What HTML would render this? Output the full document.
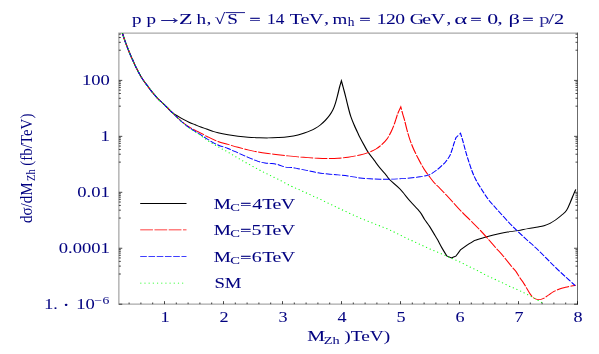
<!DOCTYPE html>
<html><head><meta charset="utf-8"><title>p p → Z h</title>
<style>html,body{margin:0;padding:0;background:#fff;overflow:hidden}svg{display:block}text{font-family:"Liberation Serif",serif;fill:#000080;stroke:#000080;stroke-width:0.05px}.mono{font-family:"Liberation Mono",monospace;stroke:none}</style></head><body>
<svg width="599" height="354" viewBox="0 0 599 354">
<rect width="599" height="354" fill="#fff"/>
<g transform="scale(1.25,1)" fill="none" stroke-linejoin="miter" stroke-miterlimit="10">
<path d="M97.92,33.00 C98.28,34.40 99.17,38.23 100.08,41.40 C100.99,44.57 102.55,49.43 103.36,52.00 C104.17,54.57 104.49,55.47 104.96,56.80 C105.43,58.13 105.48,58.15 106.16,60.00 C106.84,61.85 107.81,64.88 109.04,67.90 C110.27,70.92 112.01,75.08 113.52,78.10 C115.03,81.12 116.57,83.47 118.08,86.00 C119.59,88.53 121.05,91.00 122.56,93.30 C124.07,95.60 126.04,98.38 127.12,99.80 C128.20,101.22 127.96,100.53 129.04,101.80 C130.12,103.07 132.09,105.55 133.60,107.40 C135.11,109.25 136.59,111.40 138.08,112.90 C139.57,114.40 141.05,115.27 142.56,116.40 C144.07,117.53 145.61,118.68 147.12,119.70 C148.63,120.72 150.09,121.65 151.60,122.50 C153.11,123.35 154.65,124.05 156.16,124.80 C157.67,125.55 159.13,126.30 160.64,127.00 C162.15,127.70 163.71,128.33 165.20,129.00 C166.69,129.67 168.07,130.37 169.60,131.00 C171.13,131.63 172.27,132.17 174.40,132.80 C176.53,133.43 179.73,134.22 182.40,134.80 C185.07,135.38 187.73,135.88 190.40,136.30 C193.07,136.72 195.73,137.07 198.40,137.30 C201.07,137.53 203.73,137.60 206.40,137.70 C209.07,137.80 211.73,137.93 214.40,137.90 C217.07,137.87 219.73,137.70 222.40,137.50 C225.07,137.30 227.73,137.12 230.40,136.70 C233.07,136.28 236.13,135.65 238.40,135.00 C240.67,134.35 242.40,133.48 244.00,132.80 C245.60,132.12 246.64,131.63 248.00,130.90 C249.36,130.17 250.79,129.38 252.16,128.40 C253.53,127.42 254.89,126.33 256.24,125.00 C257.59,123.67 259.00,122.02 260.24,120.40 C261.48,118.78 262.65,117.08 263.68,115.30 C264.71,113.52 265.61,111.75 266.40,109.70 C267.19,107.65 267.73,105.68 268.40,103.00 C269.07,100.32 269.84,96.33 270.40,93.60 C270.96,90.87 271.31,88.73 271.76,86.60 C272.21,84.47 272.89,81.77 273.12,80.80 C273.35,81.83 273.91,84.30 274.48,87.00 C275.05,89.70 275.88,93.63 276.56,97.00 C277.24,100.37 277.88,103.95 278.56,107.20 C279.24,110.45 279.84,113.53 280.64,116.50 C281.44,119.47 282.35,122.03 283.36,125.00 C284.37,127.97 285.95,132.20 286.72,134.30 C287.49,136.40 287.25,135.82 288.00,137.60 C288.75,139.38 290.13,142.60 291.20,145.00 C292.27,147.40 293.07,149.50 294.40,152.00 C295.73,154.50 297.60,157.33 299.20,160.00 C300.80,162.67 302.40,165.50 304.00,168.00 C305.60,170.50 307.47,173.00 308.80,175.00 C310.13,177.00 310.13,177.67 312.00,180.00 C313.87,182.33 317.33,185.50 320.00,189.00 C322.67,192.50 325.33,197.17 328.00,201.00 C330.67,204.83 334.04,208.90 336.00,212.00 C337.96,215.10 338.52,217.27 339.76,219.60 C341.00,221.93 342.20,223.63 343.44,226.00 C344.68,228.37 346.12,231.57 347.20,233.80 C348.28,236.03 348.85,237.03 349.92,239.40 C350.99,241.77 352.36,245.27 353.60,248.00 C354.84,250.73 356.73,254.50 357.36,255.80 C357.99,256.15 360.49,257.55 361.12,257.90 C361.71,257.62 364.05,256.48 364.64,256.20 C365.29,255.10 367.91,250.70 368.56,249.60 C369.36,248.90 371.49,246.93 373.36,245.40 C375.23,243.87 378.69,241.23 379.76,240.40 C381.37,239.80 386.07,237.95 389.44,236.80 C392.81,235.65 397.17,234.30 400.00,233.50 C402.83,232.70 404.00,232.48 406.40,232.00 C408.80,231.52 411.73,231.17 414.40,230.60 C417.07,230.03 419.73,229.20 422.40,228.60 C425.07,228.00 428.27,227.48 430.40,227.00 C432.53,226.52 433.60,226.32 435.20,225.70 C436.80,225.08 438.47,224.25 440.00,223.30 C441.53,222.35 442.87,221.33 444.40,220.00 C445.93,218.67 447.73,216.90 449.20,215.30 C450.67,213.70 452.00,212.65 453.20,210.40 C454.40,208.15 455.48,204.40 456.40,201.80 C457.32,199.20 458.01,196.88 458.72,194.80 C459.43,192.72 460.32,190.22 460.64,189.30" stroke="#000" stroke-width="0.95"/>
<path d="M97.92,33.00 C98.28,34.40 99.17,38.23 100.08,41.40 C100.99,44.57 102.55,49.43 103.36,52.00 C104.17,54.57 104.49,55.47 104.96,56.80 C105.43,58.13 105.48,58.15 106.16,60.00 C106.84,61.85 107.81,64.88 109.04,67.90 C110.27,70.92 112.01,75.08 113.52,78.10 C115.03,81.12 116.57,83.47 118.08,86.00 C119.59,88.53 121.05,91.00 122.56,93.30 C124.07,95.60 126.04,98.38 127.12,99.80 C128.20,101.22 127.96,100.53 129.04,101.80 C130.12,103.07 132.09,105.55 133.60,107.40 C135.11,109.25 136.59,111.10 138.08,112.90 C139.57,114.70 141.05,116.48 142.56,118.20 C144.07,119.92 145.61,121.70 147.12,123.20 C148.63,124.70 149.72,125.78 151.60,127.20 C153.48,128.62 155.93,130.07 158.40,131.70 C160.87,133.33 163.73,135.37 166.40,137.00 C169.07,138.63 171.73,140.27 174.40,141.50 C177.07,142.73 179.73,143.43 182.40,144.40 C185.07,145.37 187.73,146.38 190.40,147.30 C193.07,148.22 195.73,149.12 198.40,149.90 C201.07,150.68 203.73,151.40 206.40,152.00 C209.07,152.60 211.73,153.05 214.40,153.50 C217.07,153.95 219.73,154.30 222.40,154.70 C225.07,155.10 227.73,155.53 230.40,155.90 C233.07,156.27 235.73,156.62 238.40,156.90 C241.07,157.18 243.73,157.37 246.40,157.60 C249.07,157.83 251.73,158.15 254.40,158.30 C257.07,158.45 259.73,158.50 262.40,158.50 C265.07,158.50 267.73,158.50 270.40,158.30 C273.07,158.10 275.47,157.85 278.40,157.30 C281.33,156.75 285.33,155.77 288.00,155.00 C290.67,154.23 292.27,153.70 294.40,152.70 C296.53,151.70 298.93,150.38 300.80,149.00 C302.67,147.62 304.13,146.07 305.60,144.40 C307.07,142.73 308.40,141.07 309.60,139.00 C310.80,136.93 311.87,134.33 312.80,132.00 C313.73,129.67 314.53,127.17 315.20,125.00 C315.87,122.83 316.27,121.00 316.80,119.00 C317.33,117.00 317.76,115.03 318.40,113.00 C319.04,110.97 320.27,107.83 320.64,106.80 C320.93,108.17 321.91,112.80 322.40,115.00 C322.89,117.20 323.07,117.50 323.60,120.00 C324.13,122.50 324.87,126.67 325.60,130.00 C326.33,133.33 327.07,136.67 328.00,140.00 C328.93,143.33 330.00,146.67 331.20,150.00 C332.40,153.33 333.87,156.83 335.20,160.00 C336.53,163.17 337.87,166.33 339.20,169.00 C340.53,171.67 341.87,173.75 343.20,176.00 C344.53,178.25 345.73,180.42 347.20,182.50 C348.67,184.58 349.87,185.75 352.00,188.50 C354.13,191.25 357.33,195.42 360.00,199.00 C362.67,202.58 365.33,206.50 368.00,210.00 C370.67,213.50 373.33,216.67 376.00,220.00 C378.67,223.33 381.47,226.67 384.00,230.00 C386.53,233.33 389.07,237.00 391.20,240.00 C393.33,243.00 394.80,245.17 396.80,248.00 C398.80,250.83 401.07,253.83 403.20,257.00 C405.33,260.17 408.00,264.58 409.60,267.00 C411.20,269.42 411.73,269.67 412.80,271.50 C413.87,273.33 414.93,275.97 416.00,278.00 C417.07,280.03 417.87,281.08 419.20,283.70 C420.53,286.32 422.71,291.32 424.00,293.70 C425.29,296.08 425.81,297.02 426.96,298.00 C428.11,298.98 429.56,299.55 430.88,299.60 C432.20,299.65 433.55,299.07 434.88,298.30 C436.21,297.53 437.55,296.10 438.88,295.00 C440.21,293.90 441.43,292.70 442.88,291.70 C444.33,290.70 446.01,289.73 447.60,289.00 C449.19,288.27 450.80,287.80 452.40,287.30 C454.00,286.80 455.83,286.33 457.20,286.00 C458.57,285.67 460.07,285.42 460.64,285.30" stroke="#f00" stroke-width="0.9" stroke-dasharray="10.2 1.2"/>
<path d="M97.92,33.00 C98.28,34.40 99.17,38.23 100.08,41.40 C100.99,44.57 102.55,49.43 103.36,52.00 C104.17,54.57 104.49,55.47 104.96,56.80 C105.43,58.13 105.48,58.15 106.16,60.00 C106.84,61.85 107.81,64.88 109.04,67.90 C110.27,70.92 112.01,75.08 113.52,78.10 C115.03,81.12 116.57,83.47 118.08,86.00 C119.59,88.53 121.05,91.00 122.56,93.30 C124.07,95.60 126.04,98.38 127.12,99.80 C128.20,101.22 127.96,100.53 129.04,101.80 C130.12,103.07 132.09,105.55 133.60,107.40 C135.11,109.25 136.59,111.05 138.08,112.90 C139.57,114.75 141.05,116.72 142.56,118.50 C144.07,120.28 145.61,122.05 147.12,123.60 C148.63,125.15 149.72,126.23 151.60,127.80 C153.48,129.37 155.93,131.05 158.40,133.00 C160.87,134.95 163.73,137.50 166.40,139.50 C169.07,141.50 171.73,143.50 174.40,145.00 C177.07,146.50 179.73,147.18 182.40,148.50 C185.07,149.82 187.73,151.43 190.40,152.90 C193.07,154.37 195.73,155.90 198.40,157.30 C201.07,158.70 204.13,160.35 206.40,161.30 C208.67,162.25 210.17,162.63 212.00,163.00 C213.83,163.37 215.57,163.22 217.36,163.50 C219.15,163.78 220.95,164.12 222.72,164.70 C224.49,165.28 226.21,166.53 228.00,167.00 C229.79,167.47 231.71,167.22 233.44,167.50 C235.17,167.78 236.24,168.18 238.40,168.70 C240.56,169.22 243.73,169.92 246.40,170.60 C249.07,171.28 251.73,172.23 254.40,172.80 C257.07,173.37 259.73,173.65 262.40,174.00 C265.07,174.35 267.73,174.57 270.40,174.90 C273.07,175.23 275.47,175.48 278.40,176.00 C281.33,176.52 285.07,177.53 288.00,178.00 C290.93,178.47 293.33,178.60 296.00,178.80 C298.67,179.00 301.33,179.13 304.00,179.20 C306.67,179.27 309.33,179.28 312.00,179.20 C314.67,179.12 317.33,178.90 320.00,178.70 C322.67,178.50 325.33,178.32 328.00,178.00 C330.67,177.68 333.68,177.25 336.00,176.80 C338.32,176.35 340.32,175.87 341.92,175.30 C343.52,174.73 344.45,174.18 345.60,173.40 C346.75,172.62 347.60,171.77 348.80,170.60 C350.00,169.43 351.48,167.93 352.80,166.40 C354.12,164.87 355.56,163.17 356.72,161.40 C357.88,159.63 358.93,157.77 359.76,155.80 C360.59,153.83 361.11,151.67 361.68,149.60 C362.25,147.53 362.69,145.37 363.20,143.40 C363.71,141.43 364.47,138.73 364.72,137.80 C365.33,137.03 367.79,133.97 368.40,133.20 C368.69,134.40 369.51,137.53 370.16,140.40 C370.81,143.27 371.61,147.27 372.32,150.40 C373.03,153.53 373.52,155.77 374.40,159.20 C375.28,162.63 376.53,167.53 377.60,171.00 C378.67,174.47 379.47,176.83 380.80,180.00 C382.13,183.17 384.00,186.83 385.60,190.00 C387.20,193.17 388.80,196.33 390.40,199.00 C392.00,201.67 393.60,203.72 395.20,206.00 C396.80,208.28 397.87,209.75 400.00,212.70 C402.13,215.65 405.60,220.55 408.00,223.70 C410.40,226.85 412.13,228.88 414.40,231.60 C416.67,234.32 419.20,237.27 421.60,240.00 C424.00,242.73 426.27,245.02 428.80,248.00 C431.33,250.98 434.20,254.67 436.80,257.90 C439.40,261.13 441.80,264.25 444.40,267.40 C447.00,270.55 449.77,273.77 452.40,276.80 C455.03,279.83 458.87,284.13 460.16,285.60" stroke="#00f" stroke-width="0.9" stroke-dasharray="5.3 1.3"/>
<path d="M97.92,33.00 C98.28,34.40 99.17,38.23 100.08,41.40 C100.99,44.57 102.55,49.43 103.36,52.00 C104.17,54.57 104.49,55.47 104.96,56.80 C105.43,58.13 105.48,58.15 106.16,60.00 C106.84,61.85 107.81,64.88 109.04,67.90 C110.27,70.92 112.01,75.08 113.52,78.10 C115.03,81.12 116.57,83.47 118.08,86.00 C119.59,88.53 121.05,91.00 122.56,93.30 C124.07,95.60 126.04,98.38 127.12,99.80 C128.20,101.22 127.96,100.53 129.04,101.80 C130.12,103.07 132.09,105.55 133.60,107.40 C135.11,109.25 136.59,111.03 138.08,112.90 C139.57,114.77 141.05,116.78 142.56,118.60 C144.07,120.42 145.61,122.20 147.12,123.80 C148.63,125.40 149.72,126.55 151.60,128.20 C153.48,129.85 155.93,131.62 158.40,133.70 C160.87,135.78 163.73,138.53 166.40,140.70 C169.07,142.87 171.73,144.78 174.40,146.70 C177.07,148.62 179.73,150.28 182.40,152.20 C185.07,154.12 187.73,156.27 190.40,158.20 C193.07,160.13 195.73,161.97 198.40,163.80 C201.07,165.63 203.73,167.43 206.40,169.20 C209.07,170.97 211.73,172.73 214.40,174.40 C217.07,176.07 219.47,177.33 222.40,179.20 C225.33,181.07 229.07,183.80 232.00,185.60 C234.93,187.40 237.33,188.48 240.00,190.00 C242.67,191.52 245.33,193.17 248.00,194.70 C250.67,196.23 253.33,197.65 256.00,199.20 C258.67,200.75 261.33,202.40 264.00,204.00 C266.67,205.60 269.33,207.22 272.00,208.80 C274.67,210.38 277.33,211.97 280.00,213.50 C282.67,215.03 285.33,216.58 288.00,218.00 C290.67,219.42 293.33,220.67 296.00,222.00 C298.67,223.33 301.33,224.67 304.00,226.00 C306.67,227.33 309.33,228.50 312.00,230.00 C314.67,231.50 317.33,233.37 320.00,235.00 C322.67,236.63 325.33,238.23 328.00,239.80 C330.67,241.37 333.33,242.87 336.00,244.40 C338.67,245.93 341.33,247.53 344.00,249.00 C346.67,250.47 349.33,251.77 352.00,253.20 C354.67,254.63 357.33,256.13 360.00,257.60 C362.67,259.07 365.33,260.43 368.00,262.00 C370.67,263.57 373.33,265.33 376.00,267.00 C378.67,268.67 381.33,270.33 384.00,272.00 C386.67,273.67 389.33,275.38 392.00,277.00 C394.67,278.62 397.33,280.12 400.00,281.70 C402.67,283.28 405.33,284.98 408.00,286.50 C410.67,288.02 413.07,289.05 416.00,290.80 C418.93,292.55 422.45,294.87 425.60,297.00 C428.75,299.13 433.33,302.50 434.88,303.60" stroke="#0f0" stroke-width="0.95" stroke-dasharray="0.95 2.4"/>
<path d="M112.16,203.50 H149.20" stroke="#000" stroke-width="0.9"/>
<path d="M112.16,229.90 H149.20" stroke="#f00" stroke-width="0.9" stroke-dasharray="10.2 1.2"/>
<path d="M112.16,256.40 H149.20" stroke="#00f" stroke-width="0.9" stroke-dasharray="5.3 1.3"/>
<path d="M112.16,283.10 H146.56" stroke="#0f0" stroke-width="0.9" stroke-dasharray="0.95 2.4"/>
</g>
<g stroke="#000" fill="none">
<path d="M577.50,33.17 H118.86 V304.17 H577.50" stroke-width="1.3" stroke-opacity="0.34" stroke-linecap="butt"/>
<path d="M577.50,32.57 V304.77" stroke-width="1.0" stroke-opacity="0.58"/>
<path d="M129.10,304.17v-1.70M140.90,304.17v-1.70M152.70,304.17v-1.70M164.50,304.17v-3.00M176.30,304.17v-1.70M188.10,304.17v-1.70M199.90,304.17v-1.70M211.70,304.17v-1.70M223.50,304.17v-3.00M235.30,304.17v-1.70M247.10,304.17v-1.70M258.90,304.17v-1.70M270.70,304.17v-1.70M282.50,304.17v-3.00M294.30,304.17v-1.70M306.10,304.17v-1.70M317.90,304.17v-1.70M329.70,304.17v-1.70M341.50,304.17v-3.00M353.30,304.17v-1.70M365.10,304.17v-1.70M376.90,304.17v-1.70M388.70,304.17v-1.70M400.50,304.17v-3.00M412.30,304.17v-1.70M424.10,304.17v-1.70M435.90,304.17v-1.70M447.70,304.17v-1.70M459.50,304.17v-3.00M471.30,304.17v-1.70M483.10,304.17v-1.70M494.90,304.17v-1.70M506.70,304.17v-1.70M518.50,304.17v-3.00M530.30,304.17v-1.70M542.10,304.17v-1.70M553.90,304.17v-1.70M565.70,304.17v-1.70M577.50,304.17v-3.00M118.86,304.20h3.40M577.50,304.20h-3.40M118.86,274.01h2.00M577.50,274.01h-2.00M118.86,266.11h2.00M577.50,266.11h-2.00M118.86,261.36h2.00M577.50,261.36h-2.00M118.86,257.95h2.00M577.50,257.95h-2.00M118.86,255.29h2.00M577.50,255.29h-2.00M118.86,253.12h2.00M577.50,253.12h-2.00M118.86,251.27h2.00M577.50,251.27h-2.00M118.86,249.67h2.00M577.50,249.67h-2.00M118.86,248.25h3.40M577.50,248.25h-3.40M118.86,218.06h2.00M577.50,218.06h-2.00M118.86,210.16h2.00M577.50,210.16h-2.00M118.86,205.41h2.00M577.50,205.41h-2.00M118.86,202.00h2.00M577.50,202.00h-2.00M118.86,199.34h2.00M577.50,199.34h-2.00M118.86,197.17h2.00M577.50,197.17h-2.00M118.86,195.32h2.00M577.50,195.32h-2.00M118.86,193.72h2.00M577.50,193.72h-2.00M118.86,192.30h3.40M577.50,192.30h-3.40M118.86,162.11h2.00M577.50,162.11h-2.00M118.86,154.21h2.00M577.50,154.21h-2.00M118.86,149.46h2.00M577.50,149.46h-2.00M118.86,146.05h2.00M577.50,146.05h-2.00M118.86,143.39h2.00M577.50,143.39h-2.00M118.86,141.22h2.00M577.50,141.22h-2.00M118.86,139.37h2.00M577.50,139.37h-2.00M118.86,137.77h2.00M577.50,137.77h-2.00M118.86,136.35h3.40M577.50,136.35h-3.40M118.86,106.16h2.00M577.50,106.16h-2.00M118.86,98.26h2.00M577.50,98.26h-2.00M118.86,93.51h2.00M577.50,93.51h-2.00M118.86,90.10h2.00M577.50,90.10h-2.00M118.86,87.44h2.00M577.50,87.44h-2.00M118.86,85.27h2.00M577.50,85.27h-2.00M118.86,83.42h2.00M577.50,83.42h-2.00M118.86,81.82h2.00M577.50,81.82h-2.00M118.86,80.40h3.40M577.50,80.40h-3.40M118.86,50.21h2.00M577.50,50.21h-2.00M118.86,42.31h2.00M577.50,42.31h-2.00M118.86,37.56h2.00M577.50,37.56h-2.00M118.86,34.15h2.00M577.50,34.15h-2.00" stroke-width="0.85" stroke-opacity="0.85"/>
</g>
<g opacity="0.999">
<text transform="translate(0,23.90) scale(1.27,1)" x="103.93" font-size="15">p</text>
<text transform="translate(0,23.90) scale(1.27,1)" x="115.43" font-size="15">p</text>
<text transform="translate(155.70,24.20) scale(1.27,1)" font-size="22" style="fill:#1c1c8c;stroke:none">→</text>
<text transform="translate(0,23.90) scale(1.47,1)" x="121.80" font-size="15">Z</text>
<text transform="translate(0,23.90) scale(1.28,1)" x="153.60 161.30" font-size="15">h,</text>
<text transform="translate(214.60,23.90) scale(1.28,1)" font-size="15">√</text>
<path d="M225.5,12.6 H245" stroke="#000080" stroke-width="0.9"/>
<text transform="translate(227.30,23.90) scale(1.28,1)" font-size="15">S</text>
<text transform="translate(249.60,24.00) scale(1.62,1)" font-size="12" style="stroke-width:0.3px">=</text>
<text transform="translate(0,23.90) scale(1.15,1)" x="232.07 239.71" font-size="15">14</text>
<text transform="translate(0,23.90) scale(1.35,1)" x="214.62 222.67 228.94 239.95" font-size="15">TeV,</text>
<text transform="translate(0,23.90) scale(1.27,1)" x="261.89" font-size="15">m</text>
<text transform="translate(347.77,26.40) scale(1.15,1)" font-size="11.6">h</text>
<text transform="translate(359.60,24.00) scale(1.62,1)" font-size="12" style="stroke-width:0.3px">=</text>
<text transform="translate(0,23.90) scale(1.3,1)" x="289.84 296.88 304.04" font-size="15">120</text>
<text transform="translate(0,23.90) scale(1.33,1)" x="308.11 317.53 323.89 335.44" font-size="15">GeV,</text>
<text transform="translate(454.30,23.90) scale(1.66,1)" font-size="15" style="stroke:none">α</text>
<text transform="translate(470.50,24.00) scale(1.62,1)" font-size="12" style="stroke-width:0.3px">=</text>
<text transform="translate(0,23.90) scale(1.45,1)" x="336.05 342.95" font-size="15">0,</text>
<text transform="translate(508.40,23.90) scale(1.5,1)" font-size="15" style="stroke:none">β</text>
<text transform="translate(522.60,24.00) scale(1.62,1)" font-size="12" style="stroke-width:0.3px">=</text>
<text transform="translate(0,23.90) scale(1.36,1)" x="396.45 403.09 407.36" font-size="15"><tspan style="fill:#2c2c98;stroke:none">p</tspan>/2</text>
<text transform="translate(109.80,85.30) scale(1.24,1)" font-size="15" text-anchor="end">100</text>
<text transform="translate(109.80,141.25) scale(1.24,1)" font-size="15" text-anchor="end">1</text>
<text transform="translate(109.80,197.20) scale(1.24,1)" font-size="15" text-anchor="end">0.01</text>
<text transform="translate(109.80,253.15) scale(1.24,1)" font-size="15" text-anchor="end">0.0001</text>
<text transform="translate(44.30,309.00) scale(1.2,1)" font-size="15">1.</text>
<text transform="translate(62.50,311.00) scale(1.21,1)" font-size="18">·</text>
<text transform="translate(76.20,309.00) scale(1.24,1)" font-size="15">10</text>
<text transform="translate(0,303.50) scale(1.3,1)" x="72.71 78.93" font-size="10.5">−6</text>
<text transform="translate(165.00,322.10) scale(1.21,1)" font-size="15" text-anchor="middle">1</text>
<text transform="translate(224.00,322.10) scale(1.21,1)" font-size="15" text-anchor="middle">2</text>
<text transform="translate(283.00,322.10) scale(1.21,1)" font-size="15" text-anchor="middle">3</text>
<text transform="translate(342.00,322.10) scale(1.21,1)" font-size="15" text-anchor="middle">4</text>
<text transform="translate(401.00,322.10) scale(1.21,1)" font-size="15" text-anchor="middle">5</text>
<text transform="translate(460.00,322.10) scale(1.21,1)" font-size="15" text-anchor="middle">6</text>
<text transform="translate(519.00,322.10) scale(1.21,1)" font-size="15" text-anchor="middle">7</text>
<text transform="translate(578.00,322.10) scale(1.21,1)" font-size="15" text-anchor="middle">8</text>
<text transform="translate(307.20,340.70) scale(1.34,1)" font-size="15">M</text>
<text transform="translate(323.80,343.50) scale(1.3,1)" font-size="11">Zh</text>
<text transform="translate(344.30,340.70) scale(1.29,1)" font-size="15">)TeV)</text>
<text transform="translate(213.80,208.60) scale(1.29,1)" font-size="15">M</text>
<text transform="translate(230.30,211.20) scale(1.32,1)" font-size="11">C</text>
<text transform="translate(240.20,208.70) scale(1.62,1)" font-size="12" style="stroke-width:0.3px">=</text>
<text transform="translate(0,208.60) scale(1.33,1)" x="189.71 197.25 204.83 211.03" font-size="15">4TeV</text>
<text transform="translate(213.80,234.80) scale(1.29,1)" font-size="15">M</text>
<text transform="translate(230.30,237.40) scale(1.32,1)" font-size="11">C</text>
<text transform="translate(240.20,234.90) scale(1.62,1)" font-size="12" style="stroke-width:0.3px">=</text>
<text transform="translate(0,234.80) scale(1.33,1)" x="189.13 197.25 204.83 211.03" font-size="15">5TeV</text>
<text transform="translate(213.80,261.60) scale(1.29,1)" font-size="15">M</text>
<text transform="translate(230.30,264.20) scale(1.32,1)" font-size="11">C</text>
<text transform="translate(240.20,261.70) scale(1.62,1)" font-size="12" style="stroke-width:0.3px">=</text>
<text transform="translate(0,261.60) scale(1.33,1)" x="189.36 197.25 204.83 211.03" font-size="15">6TeV</text>
<text transform="translate(214.40,287.60) scale(1.25,1)" font-size="15">SM</text>
<text transform="translate(32.00,223.00) scale(1.15,1) rotate(-90)" font-size="15" style="stroke:none">dσ/dM</text>
<text transform="translate(35.40,181.00) scale(1.15,1) rotate(-90)" font-size="10.5" style="stroke:none">Zh</text>
<text transform="translate(32.00,165.80) scale(1.15,1) rotate(-90)" font-size="15" style="stroke:none">(fb/TeV)</text>
</g>
</svg></body></html>
